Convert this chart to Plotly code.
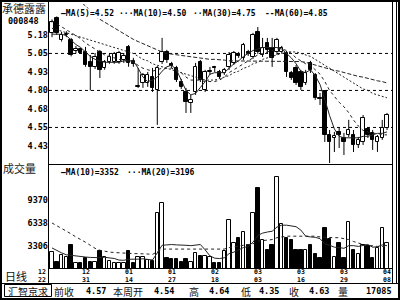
import plotly.graph_objects as go

W, H = 400, 300
MONO = "DejaVu Sans Mono"
CJK = "Noto Sans CJK SC"

stock_name = "承德露露"
stock_code = "000848"
panel_daily = "日线"
panel_volume = "成交量"
broker = "汇智京求"

# ---- daily candles (index 0..70) ----
opens = [5.19, 5.29, 5.14, 5.175, 5.14, 5.067, 5.08, 5.06, 4.993, 4.96,
         5.06, 4.952, 4.993, 4.993, 4.993, 5.006, 5.094, 5.00, 4.824, 4.851,
         4.851, 4.891, 4.803, 4.993, 5.06, 4.979, 4.952, 4.857, 4.79, 4.716,
         4.79, 4.993, 4.803, 4.925, 4.959, 4.925, 4.918, 4.959, 4.986, 5.047,
         5.02, 5.06, 5.026, 5.195, 5.04, 5.121, 5.087, 5.06, 5.06, 5.053,
         4.918, 4.952, 4.925, 4.851, 4.986, 4.905, 4.749, 4.797, 4.499, 4.479,
         4.52, 4.479, 4.499, 4.499, 4.432, 4.452, 4.54, 4.513, 4.452, 4.479,
         4.547]
highs = [5.28, 5.30, 5.195, 5.20, 5.155, 5.10, 5.087, 5.094, 5.04, 5.053,
         5.074, 5.006, 5.047, 5.06, 5.067, 5.053, 5.107, 5.02, 4.952, 4.918,
         4.925, 4.952, 4.966, 5.155, 5.074, 4.993, 4.966, 4.878, 4.817, 4.77,
         4.986, 5.006, 4.939, 4.959, 4.966, 4.939, 4.952, 5.06, 5.067, 5.06,
         5.121, 5.074, 5.189, 5.229, 5.155, 5.155, 5.155, 5.155, 5.101, 5.067,
         4.932, 4.972, 4.939, 4.939, 5.00, 4.918, 4.783, 4.803, 4.533, 4.52,
         4.547, 4.513, 4.601, 4.533, 4.486, 4.634, 4.553, 4.533, 4.499, 4.601,
         4.648]
lows = [5.16, 5.175, 5.13, 5.16, 5.03, 5.05, 5.047, 4.96, 4.80, 4.945,
        4.884, 4.94, 4.98, 4.98, 4.98, 4.986, 4.96, 4.96, 4.817, 4.817,
        4.824, 4.79, 4.567, 4.979, 4.986, 4.952, 4.857, 4.81, 4.648, 4.648,
        4.77, 4.857, 4.79, 4.905, 4.925, 4.878, 4.905, 4.939, 4.972, 5.02,
        5.006, 5.033, 5.013, 5.047, 5.026, 5.053, 4.959, 5.04, 5.053, 4.891,
        4.871, 4.837, 4.803, 4.837, 4.918, 4.736, 4.702, 4.452, 4.31, 4.384,
        4.411, 4.364, 4.486, 4.384, 4.411, 4.432, 4.479, 4.398, 4.385, 4.466,
        4.533]
closes = [5.26, 5.19, 5.175, 5.18, 5.04, 5.08, 5.053, 4.972, 4.96, 5.026,
          4.94, 4.993, 5.026, 5.047, 5.053, 5.033, 4.986, 4.98, 4.831, 4.905,
          4.905, 4.817, 4.952, 5.06, 5.006, 4.966, 4.871, 4.824, 4.722, 4.736,
          4.959, 4.871, 4.925, 4.932, 4.952, 4.891, 4.939, 5.04, 5.053, 5.033,
          5.107, 5.047, 5.175, 5.06, 5.087, 5.074, 5.02, 5.141, 5.087, 4.925,
          4.884, 4.851, 4.824, 4.918, 4.939, 4.749, 4.743, 4.499, 4.452, 4.492,
          4.499, 4.452, 4.533, 4.432, 4.466, 4.614, 4.499, 4.466, 4.486, 4.547,
          4.634]
volumes = [2550, 1160, 2120, 1900, 3440, 1100, 1020, 1680, 1240, 1240,
           2690, 1810, 1370, 1020, 1020, 1020, 2690, 1020, 1810, 1810,
           1460, 1370, 7610, 8930, 1720, 1590, 1590, 1160, 1590, 1240,
           2340, 2000, 1990, 1900, 1020, 1100, 2690, 6730, 3740, 4420,
           5190, 3440, 7690, 10910, 4100, 2780, 3440, 12360, 6200, 4320,
           4100, 2780, 2780, 2780, 3440, 2250, 1680, 5640, 4190, 1900,
           3660, 1680, 6510, 2780, 2250, 3440, 3300, 1680, 3000, 5640,
           3660]

ma5 = [5.18, 5.18, 5.18, 5.17, 5.14, 5.11, 5.09, 5.06, 5.03, 5.01,
       5.00, 4.99, 4.99, 4.99, 4.99, 5.00, 5.00, 5.00, 4.95, 4.89,
       4.86, 4.87, 4.89, 4.93, 4.96, 4.97, 4.94, 4.87, 4.80, 4.77,
       4.78, 4.82, 4.86, 4.91, 4.92, 4.92, 4.92, 4.95, 4.98, 5.00,
       5.03, 5.05, 5.07, 5.08, 5.09, 5.09, 5.09, 5.09, 5.08, 5.05,
       5.02, 4.98, 4.93, 4.92, 4.94, 4.90, 4.84, 4.74, 4.63, 4.54,
       4.49, 4.48, 4.48, 4.48, 4.48, 4.49, 4.49, 4.50, 4.51, 4.51,
       4.52]
ma10 = [5.27, 5.25, 5.23, 5.21, 5.19, 5.17, 5.15, 5.12, 5.10, 5.08,
        5.06, 5.04, 5.03, 5.02, 5.01, 5.00, 5.00, 4.99, 4.97, 4.95,
        4.94, 4.93, 4.94, 4.95, 4.95, 4.95, 4.94, 4.92, 4.89, 4.87,
        4.87, 4.87, 4.86, 4.86, 4.86, 4.87, 4.89, 4.92, 4.94, 4.96,
        4.98, 5.00, 5.02, 5.04, 5.05, 5.06, 5.07, 5.08, 5.08, 5.07,
        5.05, 5.02, 5.00, 4.98, 4.97, 4.94, 4.91, 4.86, 4.80, 4.76,
        4.72, 4.69, 4.65, 4.60, 4.56, 4.53, 4.52, 4.51, 4.51, 4.50,
        4.50]
ma30 = [5.22, 5.21, 5.20, 5.19, 5.18, 5.17, 5.16, 5.15, 5.14, 5.13,
        5.12, 5.11, 5.10, 5.09, 5.08, 5.07, 5.06, 5.05, 5.03, 5.01,
        5.00, 4.98, 4.97, 4.96, 4.95, 4.94, 4.93, 4.92, 4.91, 4.90,
        4.89, 4.88, 4.87, 4.87, 4.87, 4.88, 4.89, 4.90, 4.92, 4.93,
        4.95, 4.96, 4.98, 4.99, 5.01, 5.02, 5.03, 5.04, 5.05, 5.06,
        5.06, 5.06, 5.05, 5.04, 5.03, 5.01, 4.99, 4.97, 4.95, 4.93,
        4.91, 4.89, 4.87, 4.85, 4.83, 4.81, 4.80, 4.78, 4.77, 4.76,
        4.75]
ma60 = [5.52, 5.50, 5.48, 5.46, 5.44, 5.42, 5.40, 5.37, 5.34, 5.30,
        5.28, 5.26, 5.24, 5.22, 5.20, 5.18, 5.16, 5.145, 5.13, 5.115,
        5.10, 5.09, 5.07, 5.06, 5.05, 5.045, 5.04, 5.035, 5.03, 5.025,
        5.02, 5.02, 5.015, 5.01, 5.01, 5.01, 5.005, 5.00, 5.00, 5.00,
        5.00, 5.00, 5.00, 5.00, 5.00, 5.00, 5.00, 5.00, 5.00, 5.00,
        5.00, 5.00, 4.995, 4.99, 4.98, 4.97, 4.96, 4.95, 4.94, 4.935,
        4.93, 4.92, 4.91, 4.90, 4.895, 4.89, 4.88, 4.87, 4.865, 4.86,
        4.85]
vol_ma10 = [3050, 2700, 2400, 2150, 2050, 1950, 1900, 1850, 1800, 1750,
            1760, 1820, 1750, 1660, 1450, 1420, 1560, 1520, 1570, 1620,
            1500, 1460, 2400, 3400, 3450, 3500, 3450, 3450, 3400, 3350,
            3450, 3500, 2800, 2000, 1700, 1650, 1750, 2300, 2500, 2800,
            3100, 3250, 3800, 4700, 5000, 5150, 5250, 5800, 6050, 6050,
            5950, 5850, 5400, 4600, 4500, 4450, 4270, 3600, 3400, 3150,
            3100, 3000, 3350, 3350, 3250, 3350, 3500, 3150, 3200, 3450,
            3352]
vol_ma20 = [6338, 6000, 5600, 5300, 4900, 4500, 4200, 3800, 3400, 3000,
            2750, 2600, 2500, 2450, 2400, 2350, 2350, 2300, 2300, 2300,
            2250, 2200, 2500, 2900, 2900, 2900, 2900, 2850, 2850, 2850,
            2900, 2900, 2900, 2900, 2850, 2850, 2900, 3100, 3200, 3300,
            3400, 3450, 3600, 3950, 4050, 4100, 4150, 4400, 4550, 4600,
            4600, 4600, 4600, 4650, 4650, 4600, 4500, 4450, 4450, 4400,
            4400, 4300, 4150, 3900, 3650, 3500, 3400, 3300, 3250, 3250,
            3196]

price_ticks = [5.175, 5.05, 4.925, 4.80, 4.675, 4.55, 4.425]
price_tick_labels = ["5.18", "5.05", "4.93", "4.80", "4.68", "4.55", "4.43"]
price_grid = [5.05, 4.80, 4.55]
vol_ticks = [3306, 6338, 9370]
vol_tick_labels = ["3306", "6338", "9370"]

date_index = [-2, 7, 16, 25, 34, 43, 52, 61, 70]
date_month = ["12", "12", "01", "01", "02", "03", "03", "03", "04"]
date_day = ["22", "31", "14", "27", "18", "03", "16", "29", "08"]

ma_names = ["MA(5)", "MA(10)", "MA(30)", "MA(60)"]
ma_last = ["4.52", "4.50", "4.75", "4.85"]
vol_ma_names = ["MA(10)", "MA(20)"]
vol_ma_last = ["3352", "3196"]

info_labels = ["前收", "本周开", "高", "低", "收", "量"]
info_values = ["4.57", "4.54", "4.64", "4.35", "4.63", "17085"]

# ---- geometry (pixels) ----
PX_L, PX_R = 49, 392
PRICE_TOP, PRICE_BOT = 4, 164
VOL_TOP, VOL_BOT = 165, 269
X_RANGE = [-0.627, 71.04]
P_RANGE = [4.303, 5.384]
V_RANGE = [274, 13981]


def px(x):
    return x / W


def py(y):
    return 1 - y / H


def idx_to_px(i):
    return PX_L + (i - X_RANGE[0]) / (X_RANGE[1] - X_RANGE[0]) * (PX_R - PX_L)


n = len(closes)
xs = list(range(n))
up = [c >= o for o, c in zip(opens, closes)]
body_color = ["white" if u else "black" for u in up]

wx, wy = [], []
for i, (o, h, l, c) in enumerate(zip(opens, highs, lows, closes)):
    top, bot = max(o, c), min(o, c)
    wx += [i, i, None, i, i, None]
    wy += [top, h, None, bot, l, None]

body_base = [min(o, c) for o, c in zip(opens, closes)]
body_h = [max(abs(c - o), 0.004) for o, c in zip(opens, closes)]

fig = go.Figure()
fig.add_trace(go.Scatter(x=wx, y=wy, mode="lines", line=dict(color="black", width=1),
                         xaxis="x", yaxis="y", hoverinfo="skip"))
fig.add_trace(go.Bar(x=xs, y=body_h, base=body_base, width=0.72,
                     marker=dict(color=body_color, line=dict(color="black", width=1)),
                     xaxis="x", yaxis="y"))

line_styles = [
    (ma5, "solid"),
    (ma10, "dot"),
    (ma30, "2px,2px"),
    (ma60, "4px,2px"),
]
for vals, dash in line_styles:
    fig.add_trace(go.Scatter(x=xs, y=vals, mode="lines",
                             line=dict(color="#222", width=1, dash=dash),
                             xaxis="x", yaxis="y"))

fig.add_trace(go.Bar(x=xs, y=volumes, width=0.72,
                     marker=dict(color=body_color, line=dict(color="black", width=1)),
                     xaxis="x2", yaxis="y2"))
fig.add_trace(go.Scatter(x=xs, y=vol_ma10, mode="lines",
                         line=dict(color="#222", width=1), xaxis="x2", yaxis="y2"))
fig.add_trace(go.Scatter(x=xs, y=vol_ma20, mode="lines",
                         line=dict(color="#222", width=1, dash="dot"), xaxis="x2", yaxis="y2"))

tickfont = dict(family=MONO, size=8.5, color="black", weight="bold")
dom_x = [px(PX_L), px(PX_R)]
fig.update_layout(
    width=W, height=H, margin=dict(l=0, r=0, t=0, b=0),
    paper_bgcolor="white", plot_bgcolor="white", showlegend=False,
    bargap=0,
    xaxis=dict(domain=dom_x, range=X_RANGE, anchor="y", showticklabels=False,
               showgrid=False, zeroline=False, showline=False, fixedrange=True),
    yaxis=dict(domain=[py(PRICE_BOT), py(PRICE_TOP)], range=P_RANGE, anchor="x",
               tickmode="array", tickvals=price_ticks, ticktext=price_tick_labels,
               tickfont=tickfont, showgrid=False, zeroline=False, showline=False, ticks=""),
    xaxis2=dict(domain=dom_x, range=X_RANGE, anchor="y2", matches="x", showticklabels=False,
                showgrid=False, zeroline=False, showline=False),
    yaxis2=dict(domain=[py(VOL_BOT), py(VOL_TOP)], range=V_RANGE, anchor="x2",
                tickmode="array", tickvals=vol_ticks, ticktext=vol_tick_labels,
                tickfont=tickfont, showgrid=False, zeroline=False, showline=False, ticks=""),
)

shapes = []
for g in price_grid:
    shapes.append(dict(type="line", xref="paper", yref="y", x0=px(PX_L), x1=px(PX_R),
                       y0=g, y1=g, line=dict(color="black", width=1, dash="dot"), layer="below"))


def hline(y, x0, x1, w=1):
    shapes.append(dict(type="line", xref="paper", yref="paper", x0=px(x0), x1=px(x1),
                       y0=py(y), y1=py(y), line=dict(color="black", width=w)))


def vline(x, y0, y1, w=1):
    shapes.append(dict(type="line", xref="paper", yref="paper", x0=px(x), x1=px(x),
                       y0=py(y0), y1=py(y1), line=dict(color="black", width=w)))


shapes.append(dict(type="rect", xref="paper", yref="paper", x0=px(1), x1=px(399),
                   y0=py(299), y1=py(1), line=dict(color="black", width=2)))
vline(48.5, 1, 283)
vline(392.5, 1, 283)
vline(396.5, 1, 283)
hline(164.5, 48, 393)
hline(268.5, 48, 393)
hline(283.5, 0, 400)
shapes.append(dict(type="rect", xref="paper", yref="paper", x0=px(4.5), x1=px(51.5),
                   y0=py(296.5), y1=py(284.5), line=dict(color="black", width=1)))
fig.update_layout(shapes=shapes)

ann = []


def text(s, x, y, anchor="left", size=8.5, family=MONO, weight="bold", color="black",
         yanchor="middle", bg=None):
    d = dict(text=s, x=px(x), y=py(y), xref="paper", yref="paper",
             xanchor=anchor, yanchor=yanchor, showarrow=False, borderpad=0,
             font=dict(family=family, size=size, color=color, weight=weight))
    if bg:
        d["bgcolor"] = bg
    ann.append(d)


text(stock_name, 1, 8, size=11, family=CJK, weight="normal", color="#222")
text(stock_code, 7, 21)
text(panel_volume, 2, 168, size=11, family=CJK, weight="normal", color="#222")
text(panel_daily, 4, 276, size=11, family=CJK, weight="normal", color="#111")

prefixes = ["—", "···", "··", "--"]
legend_x = [60, 118, 192, 264]
for pre, name, val, x in zip(prefixes, ma_names, ma_last, legend_x):
    text(f"{pre}{name}={val}", x, 13, size=8, bg="white")
vol_prefixes = ["—", "···"]
vol_legend_x = [60, 126]
for pre, name, val, x in zip(vol_prefixes, vol_ma_names, vol_ma_last, vol_legend_x):
    text(f"{pre}{name}={val}", x, 172, size=8, bg="white")

for i, m, d in zip(date_index, date_month, date_day):
    cx = idx_to_px(i)
    text(f"{m}<br>{d}", cx, 275.8, anchor="center", size=6.5)

text(broker, 27.5, 291.2, anchor="center", size=10, family=CJK, weight="normal", color="#111")
label_x = [53, 112, 188, 240, 288, 337]
value_x = [107, 175, 230, 280, 330, 393]
for lab, val, lx, vx in zip(info_labels, info_values, label_x, value_x):
    text(lab, lx, 291.2, size=10, family=CJK, weight="normal", color="#111")
    text(val, vx, 291.2, anchor="right", size=8.5)

fig.update_layout(annotations=ann)
fig.write_html("out.html")
